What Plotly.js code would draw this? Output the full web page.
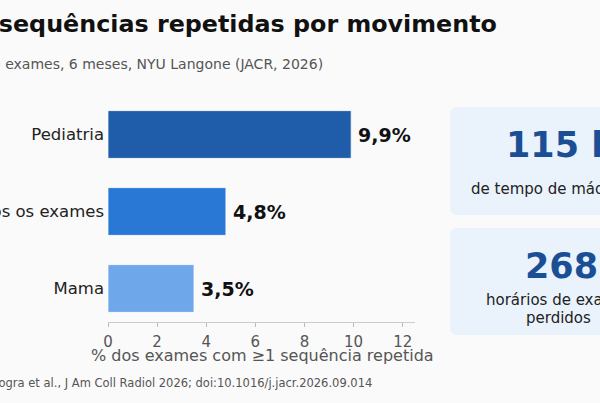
<!DOCTYPE html>
<html>
<head>
<meta charset="utf-8">
<script src="https://cdn.plot.ly/plotly-3.0.1.min.js"></script>
<style>
  html, body { margin: 0; padding: 0; background: #fafafa; }
  #plotDiv { width: 600px; height: 403px; }
</style>
</head>
<body>
<div id="plotDiv"></div>
<script>
// chart data
const categories = ['Mama', 'Todos os exames', 'Pediatria'];
const values = [3.5, 4.8, 9.9];
const barColors = ['#6ea8ea', '#2a78d5', '#1f5ca9'];
const xTicks = [0, 2, 4, 6, 8, 10, 12];
const xTitle = '% dos exames com ≥1 sequência repetida';
const cardNumbers = ['115 h', '268'];
const cardLabels = ['de tempo de máquina', 'horários de exame'];
const cardLabels2 = ['', 'perdidos'];

const W = 600, H = 403;
const M = { l: 108, r: 185, t: 101, b: 81 };
const FONT = 'DejaVu Sans, sans-serif';

// pixel -> paper coords
const px = (x) => (x - M.l) / (W - M.l - M.r);
const py = (y) => (H - M.b - y) / (H - M.t - M.b);

function roundRect(x0, y0, x1, y1, r) {
    let p = (x, y) => px(x) + ',' + py(y);
    return 'M' + p(x0 + r, y0) + ' L' + p(x1 - r, y0) + ' Q' + p(x1, y0) + ' ' + p(x1, y0 + r) +
        ' L' + p(x1, y1 - r) + ' Q' + p(x1, y1) + ' ' + p(x1 - r, y1) +
        ' L' + p(x0 + r, y1) + ' Q' + p(x0, y1) + ' ' + p(x0, y1 - r) +
        ' L' + p(x0, y0 + r) + ' Q' + p(x0, y0) + ' ' + p(x0 + r, y0) + ' Z';
}

function textAnn(text, x, y, size, color, anchor, bold) {
    return {
        text: text, xref: 'paper', yref: 'paper', x: px(x), y: py(y),
        xanchor: anchor, yanchor: 'middle', showarrow: false, borderpad: 0,
        font: { family: FONT, size: size, color: color, weight: bold ? 'bold' : 'normal' }
    };
}

let data = [{
    type: 'bar',
    orientation: 'h',
    x: values,
    y: categories,
    marker: { color: barColors, line: { color: 'rgba(255,255,255,0.7)', width: 1 } },
    hoverinfo: 'none'
}];

let annotations = [];
// value labels next to bars
values.forEach((v, i) => {
    annotations.push({
        text: v.toFixed(1).replace('.', ',') + '%',
        x: v, y: categories[i], xref: 'x', yref: 'y',
        xanchor: 'left', yanchor: 'middle', xshift: 5, showarrow: false,
        font: { family: FONT, size: 19, color: '#111', weight: 'bold' }
    });
});
// titles and source
annotations.push(textAnn('RM: sequências repetidas por movimento', 498, 24, 23.8, '#111', 'right', true));
annotations.push(textAnn('Estudo com 10.000 exames, 6 meses, NYU Langone (JACR, 2026)', 324, 64, 14, '#555', 'right', false));
annotations.push(textAnn(xTitle, 262, 355, 16, '#555', 'center', false));
annotations.push(textAnn('Fonte: Dogra et al., J Am Coll Radiol 2026; doi:10.1016/j.jacr.2026.09.014', 373, 383, 11.5, '#555', 'right', false));
// cards
const cardTops = [107, 228];
const cardBottoms = [215, 335];
let shapes = [];
cardTops.forEach((t, i) => {
    shapes.push({
        type: 'path', xref: 'paper', yref: 'paper',
        path: roundRect(450, t, 660, cardBottoms[i], 8),
        fillcolor: '#eaf2fc', line: { width: 0 }, layer: 'below'
    });
});
annotations.push(textAnn(cardNumbers[0], 505, 145, 35, '#1a4f96', 'left', true));
annotations.push(textAnn(cardLabels[0], 470, 189, 15, '#222', 'left', false));
annotations.push(textAnn(cardNumbers[1], 524, 266, 35, '#1a4f96', 'left', true));
annotations.push(textAnn(cardLabels[1], 485, 300, 15, '#222', 'left', false));
annotations.push(textAnn(cardLabels2[1], 525, 318, 15, '#222', 'left', false));

let layout = {
    width: W,
    height: H,
    margin: M,
    paper_bgcolor: '#fafafa',
    plot_bgcolor: '#fafafa',
    showlegend: false,
    bargap: 0.38,
    font: { family: FONT, color: '#222' },
    xaxis: {
        range: [0, 12.5],
        tickvals: xTicks,
        ticks: 'outside',
        ticklen: 4,
        tickcolor: '#bbb',
        showline: true,
        linecolor: '#ccc',
        linewidth: 1,
        showgrid: false,
        zeroline: false,
        ticklabelstandoff: 2,
        tickfont: { size: 15, color: '#555' }
    },
    yaxis: {
        range: [-0.435, 2.435],
        showgrid: false,
        zeroline: false,
        showline: false,
        ticks: '',
        ticklabelstandoff: 3,
        tickfont: { size: 16.5, color: '#222' }
    },
    shapes: shapes,
    annotations: annotations
};

Plotly.newPlot('plotDiv', data, layout, { displayModeBar: false, staticPlot: true });
</script>
</body>
</html>
